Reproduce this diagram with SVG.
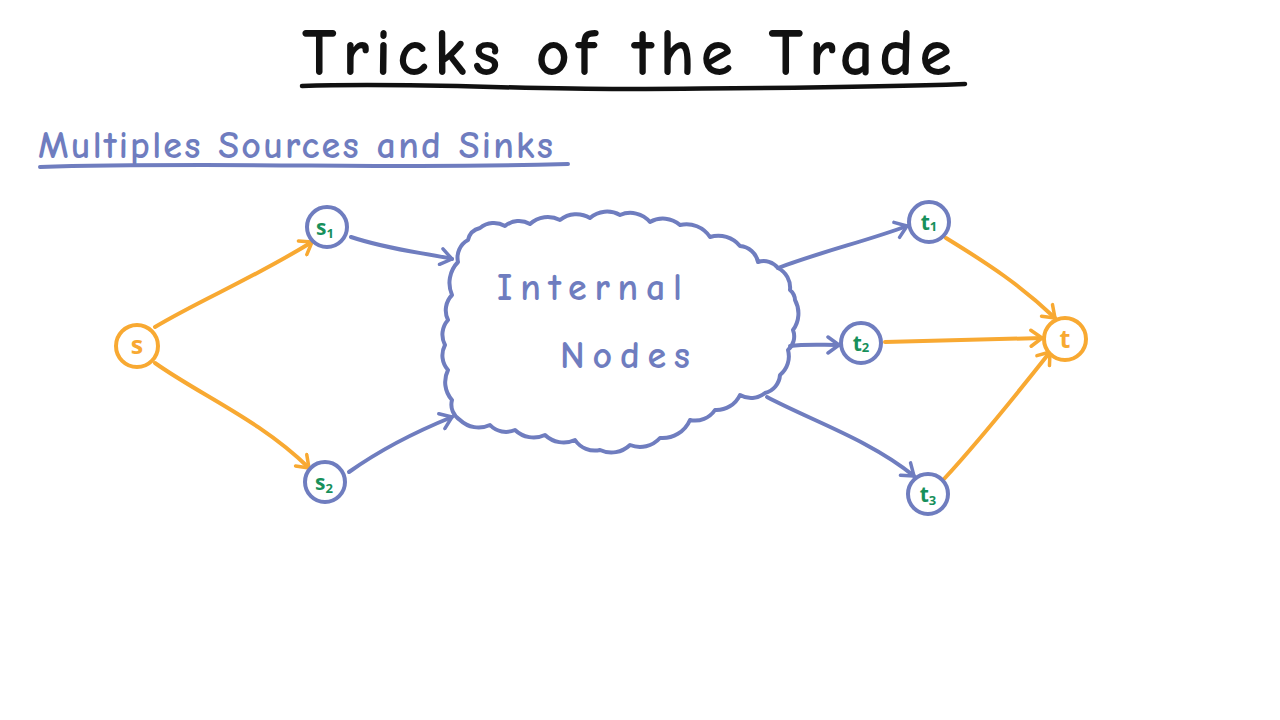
<svg xmlns="http://www.w3.org/2000/svg" width="1280" height="720" viewBox="0 0 1280 720">
<style>
  .hand { font-family: "Comic Neue", "Open Sans", "Liberation Sans", sans-serif; font-weight: bold; }
  .blue { stroke: #6f7dbf; fill: none; stroke-width: 4; stroke-linecap: round; stroke-linejoin: round; }
  .orange { stroke: #f8a932; fill: none; stroke-width: 4; stroke-linecap: round; stroke-linejoin: round; }
  .nodeB { stroke: #6f7dbf; fill: #ffffff; stroke-width: 4; }
  .nodeO { stroke: #f8a932; fill: #ffffff; stroke-width: 4; }
  .lblG { font-family: "Open Sans", "Liberation Sans", sans-serif; font-weight: bold; fill: #17905b; font-size: 21px; }
  .lblO { font-family: "Open Sans", "Liberation Sans", sans-serif; font-weight: bold; fill: #f8a932; font-size: 25px; }
</style>
<defs>
  <marker id="arrB" markerWidth="20" markerHeight="20" refX="14" refY="10" orient="auto" markerUnits="userSpaceOnUse" viewBox="0 0 20 20">
    <path d="M3,2 L14,10 L3,18" fill="none" stroke="#6f7dbf" stroke-width="3.5" stroke-linecap="round" stroke-linejoin="round"/>
  </marker>
  <marker id="arrO" markerWidth="20" markerHeight="20" refX="14" refY="10" orient="auto" markerUnits="userSpaceOnUse" viewBox="0 0 20 20">
    <path d="M3,2 L14,10 L3,18" fill="none" stroke="#f8a932" stroke-width="3.5" stroke-linecap="round" stroke-linejoin="round"/>
  </marker>
</defs>
<rect width="1280" height="720" fill="#ffffff"/>

<g id="title">
  <text class="hand" x="302" y="75" font-size="66" fill="#111111" textLength="650" lengthAdjust="spacing">Tricks of the Trade</text>
  <path d="M302,86 C420,82 520,90 640,89 C760,88 860,88 965,84" stroke="#111111" stroke-width="4.5" fill="none" stroke-linecap="round"/>
</g>

<g id="subtitle">
  <text class="hand" x="38" y="158" font-size="38" fill="#6f7dbf" textLength="515" lengthAdjust="spacing">Multiples Sources and Sinks</text>
  <path d="M40,167 C160,163 300,166 420,166 C480,166 530,165 568,164" class="blue"/>
</g>

<g id="connectors">
  <path class="orange" d="M155,327 C200,300 250,280 312,242" marker-end="url(#arrO)"/>
  <path class="orange" d="M155,363 C200,395 260,420 309,468" marker-end="url(#arrO)"/>
  <path class="blue" d="M351,237 C390,250 420,252 452,259" marker-end="url(#arrB)"/>
  <path class="blue" d="M349,472 C380,450 420,430 452,417" marker-end="url(#arrB)"/>
  <path class="blue" d="M778,268 C820,252 870,240 907,226" marker-end="url(#arrB)"/>
  <path class="blue" d="M790,346 C805,344 820,345 839,345" marker-end="url(#arrB)"/>
  <path class="blue" d="M767,397 C810,420 870,440 914,476" marker-end="url(#arrB)"/>
  <path class="orange" d="M946,238 C990,265 1020,285 1055,318" marker-end="url(#arrO)"/>
  <path class="orange" d="M885,342 C950,340 1000,339 1042,338" marker-end="url(#arrO)"/>
  <path class="orange" d="M944,479 C980,440 1020,390 1050,352" marker-end="url(#arrO)"/>
</g>

<g id="cloud">
  <path class="blue" d="M458,262 A20,20 0 0 1 468,240 A16,16 0 0 1 480,228 A22,22 0 0 1 505,226 A22,22 0 0 1 530,224 A26,26 0 0 1 560,220 A26,26 0 0 1 590,218 A26,26 0 0 1 620,215 A26,26 0 0 1 650,222 A26,26 0 0 1 680,225 A28,28 0 0 1 710,237 A28,28 0 0 1 740,246 A20,20 0 0 1 758,262 A18,18 0 0 1 778,268 A22,22 0 0 1 790,290 A14,14 0 0 1 795,300 A28,28 0 0 1 793,330 A18,18 0 0 1 788,350 A24,24 0 0 1 780,375 A20,20 0 0 1 765,393 A22,22 0 0 1 740,395 A26,26 0 0 1 715,410 A24,24 0 0 1 690,420 A30,30 0 0 1 660,438 A27,27 0 0 1 630,445 A27,27 0 0 1 600,450 A24,24 0 0 1 575,440 A27,27 0 0 1 545,435 A27,27 0 0 1 515,430 A22,22 0 0 1 490,425 A27,27 0 0 1 460,420 A18,18 0 0 1 452,400 A27,27 0 0 1 448,370 A22,22 0 0 1 445,345 A22,22 0 0 1 448,320 A22,22 0 0 1 452,295 A30,30 0 0 1 458,262 Z" fill="#ffffff"/>
  <text class="hand" x="497" y="300" font-size="38" fill="#6f7dbf" textLength="185" lengthAdjust="spacing">Internal</text>
  <text class="hand" x="560" y="368" font-size="38" fill="#6f7dbf" textLength="130" lengthAdjust="spacing">Nodes</text>
</g>

<g id="node-s">
  <circle class="nodeO" cx="137" cy="346" r="21"/>
  <text class="lblO" x="137" y="354" text-anchor="middle">s</text>
</g>
<g id="node-s1">
  <circle class="nodeB" cx="327" cy="227" r="20"/>
  <text class="lblG" x="325" y="235" text-anchor="middle">s<tspan font-size="13" dy="3">1</tspan></text>
</g>
<g id="node-s2">
  <circle class="nodeB" cx="325" cy="482" r="20"/>
  <text class="lblG" x="324" y="490" text-anchor="middle">s<tspan font-size="13" dy="3">2</tspan></text>
</g>
<g id="node-t1">
  <circle class="nodeB" cx="929" cy="222" r="20"/>
  <text class="lblG" x="929" y="230" text-anchor="middle">t<tspan font-size="13" dy="1">1</tspan></text>
</g>
<g id="node-t2">
  <circle class="nodeB" cx="861" cy="343" r="20"/>
  <text class="lblG" x="861" y="351" text-anchor="middle">t<tspan font-size="13" dy="1">2</tspan></text>
</g>
<g id="node-t3">
  <circle class="nodeB" cx="928" cy="494" r="20"/>
  <text class="lblG" x="928" y="502" text-anchor="middle">t<tspan font-size="13" dy="3">3</tspan></text>
</g>
<g id="node-t">
  <circle class="nodeO" cx="1065" cy="339" r="21"/>
  <text class="lblO" x="1065" y="348" text-anchor="middle">t</text>
</g>
</svg>
